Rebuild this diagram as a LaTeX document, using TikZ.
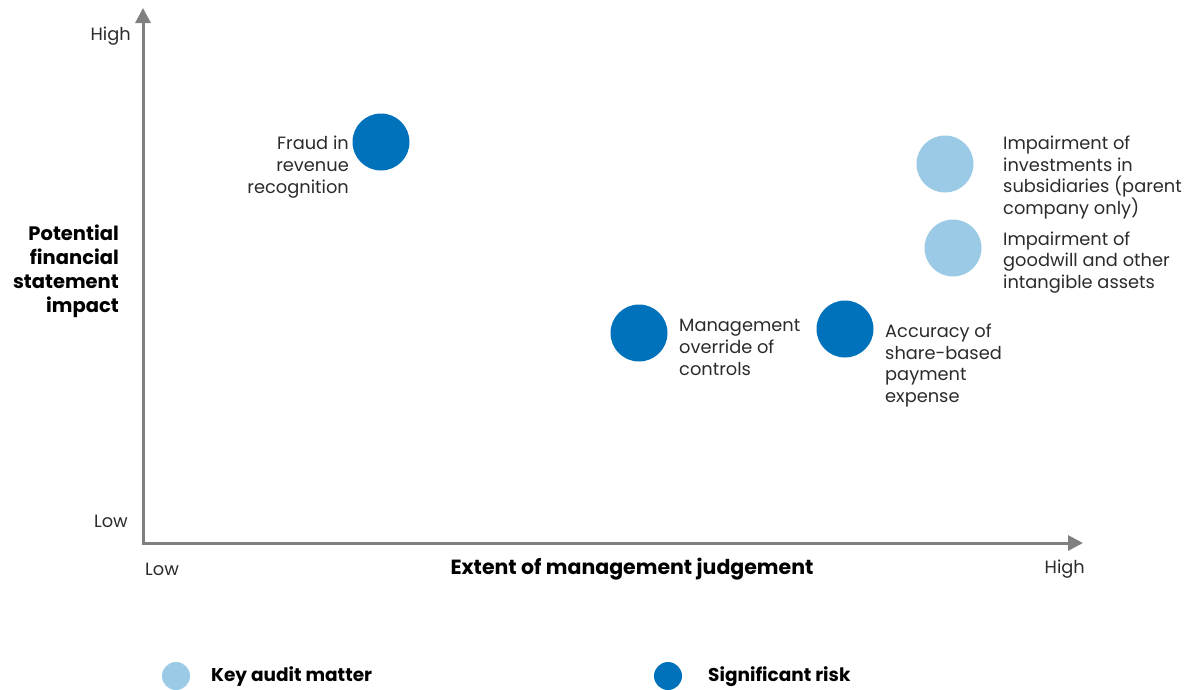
\documentclass[tikz,border=0pt]{standalone}
\usepackage{fontspec}
\setmainfont{Poppins}
\usetikzlibrary{arrows.meta}
\definecolor{axisgray}{HTML}{808080}
\definecolor{darkblue}{HTML}{0072BC}
\definecolor{lightblue}{HTML}{9BCAE6}
\definecolor{txt}{HTML}{2B2B2B}
\tikzset{
  axisline/.style={draw=axisgray, line width=3pt, line join=miter,
    {Triangle[length=15pt,width=15pt]}-{Triangle[length=15pt,width=15pt]}},
  sigdot/.style={circle, fill=darkblue, minimum size=57pt, inner sep=0pt},
  kamdot/.style={circle, fill=lightblue, minimum size=57pt, inner sep=0pt},
  sigleg/.style={circle, fill=darkblue, minimum size=28pt, inner sep=0pt},
  kamleg/.style={circle, fill=lightblue, minimum size=28pt, inner sep=0pt},
  lbl/.style={text=txt, inner sep=0pt, font=\fontsize{17.8}{21.7}\selectfont},
  blbl/.style={text=black, inner sep=0pt, font=\fontsize{18.5}{24}\selectfont\bfseries},
}
\begin{document}
\begin{tikzpicture}[x=1pt,y=-1pt]
\useasboundingbox (0,0) rectangle (1192,689);
% axes
\coordinate (ytip) at (143,8);
\coordinate (origin) at (143,543);
\coordinate (xtip) at (1083,543);
\draw[axisline] (ytip) -- (origin) -- (xtip);
% axis labels
\node[lbl, anchor=east] (yhigh) at (131,36) {High};
\node[lbl, anchor=east] (ylow) at (128,521) {Low};
\node[lbl, anchor=west] (xlow) at (145,569) {Low};
\node[lbl, anchor=east] (xhigh) at (1085,569) {High};
\node[blbl, anchor=center, font=\fontsize{20.5}{24}\selectfont\bfseries] (xtitle) at (632,569) {Extent of management judgement};
\node[blbl, anchor=east, align=right, font=\fontsize{19.5}{24}\selectfont\bfseries] (ytitle) at (119,271) {Potential\\financial\\statement\\impact};
% risks
\node[sigdot] (fraud) at (381,142) {};
\node[lbl, anchor=east, align=right] (fraudt) at (349,167) {Fraud in\\revenue\\recognition};
\node[sigdot] (mgmt) at (639,333) {};
\node[lbl, anchor=west, align=left] (mgmtt) at (679,347.5) {Management\\override of\\controls};
\node[sigdot] (share) at (845,329) {};
\node[lbl, anchor=west, align=left] (sharet) at (885,365.5) {Accuracy of\\share-based\\payment\\expense};
\node[kamdot] (inv) at (945,164) {};
\node[lbl, anchor=west, align=left] (invt) at (1003,177.5) {Impairment of\\investments in\\subsidiaries (parent\\company only)};
\node[kamdot] (gw) at (953,248) {};
\node[lbl, anchor=west, align=left] (gwt) at (1003,262.5) {Impairment of\\goodwill and other\\intangible assets};
% legend
\node[kamleg] (kamk) at (176,676) {};
\node[blbl, anchor=west] (kamt) at (211,677) {Key audit matter};
\node[sigleg] (sigk) at (668,676) {};
\node[blbl, anchor=west] (sigt) at (708,677) {Significant risk};
\end{tikzpicture}
\end{document}
